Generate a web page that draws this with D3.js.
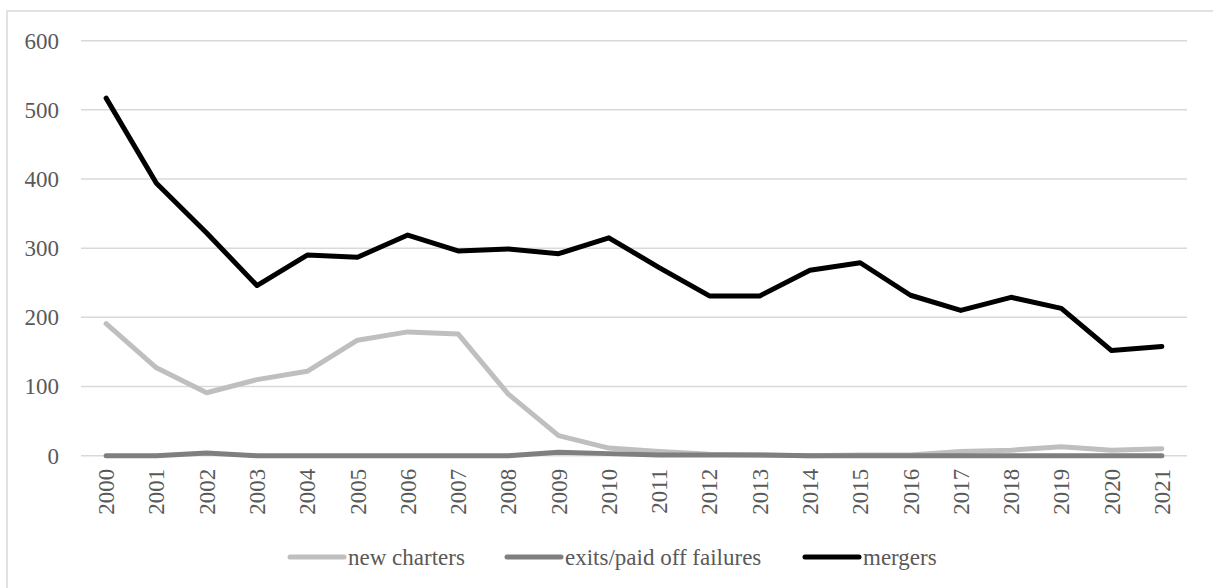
<!DOCTYPE html>
<html>
<head>
<meta charset="utf-8">
<script src="https://d3js.org/d3.v7.min.js"></script>
<style>
  body { margin: 0; background: #fff; }
  text { font-family: "Liberation Serif", "Times New Roman", serif; fill: #595959; }
</style>
</head>
<body>
<script>
  // data
  var years = ["2000","2001","2002","2003","2004","2005","2006","2007","2008","2009","2010",
               "2011","2012","2013","2014","2015","2016","2017","2018","2019","2020","2021"];
  var newCharters = [191,127,91,110,122,167,179,176,89,29,11,6,2,1,0,1,1,6,8,13,8,10];
  var exits       = [0,0,4,0,0,0,0,0,0,5,3,1,1,1,0,0,0,0,0,0,0,0];
  var mergers     = [517,394,322,246,290,287,319,296,299,292,315,272,231,231,268,279,232,210,229,213,152,158];
  var yTicks = [0,100,200,300,400,500,600];

  var series = [
    {name: "new charters", values: newCharters, color: "#bfbfbf"},
    {name: "exits/paid off failures", values: exits, color: "#7f7f7f"},
    {name: "mergers", values: mergers, color: "#000000"}
  ];

  var W = 1213, H = 588;
  var mLeft = 81, mRight = 1187, mTop = 40.7, mBottom = 455.7;
  var fs = "23px";

  var svg = d3.select("body").append("svg").attr("width", W).attr("height", H);

  // chart frame (only top/left edges are in view)
  svg.append("rect").attr("x", 7).attr("y", 11).attr("width", 1300).attr("height", 700)
    .attr("fill", "none").attr("stroke", "#d9d9d9").attr("stroke-width", 1.5);

  var x = d3.scaleBand().domain(years).range([mLeft, mRight]);
  var y = d3.scaleLinear().domain([0, 600]).range([mBottom, mTop]);

  // gridlines
  svg.append("g").selectAll("line").data(yTicks).enter().append("line")
    .attr("x1", mLeft).attr("x2", mRight)
    .attr("y1", function(d){ return y(d); }).attr("y2", function(d){ return y(d); })
    .attr("stroke", "#d9d9d9").attr("stroke-width", 1.5);

  // y axis labels
  var yAxis = svg.append("g").attr("transform", "translate(" + (mLeft - 5) + ",0)")
    .call(d3.axisLeft(y).tickValues(yTicks).tickSize(0).tickPadding(17));
  yAxis.select(".domain").remove();
  yAxis.selectAll("text").style("font-size", fs).attr("fill", "#595959")
    .style("font-family", "'Liberation Serif', serif");

  // x axis labels (rotated)
  var xAxis = svg.append("g").attr("transform", "translate(0," + mBottom + ")")
    .call(d3.axisBottom(x).tickSize(0));
  xAxis.select(".domain").remove();
  xAxis.selectAll("text")
    .style("font-size", fs).attr("fill", "#595959")
    .style("font-family", "'Liberation Serif', serif")
    .attr("text-anchor", "end")
    .attr("transform", "rotate(-90)")
    .attr("x", -13).attr("y", 0).attr("dy", "0.35em");

  var line = d3.line()
    .x(function(d, i){ return x(years[i]) + x.bandwidth() / 2; })
    .y(function(d){ return y(d); });

  series.forEach(function(s){
    svg.append("path").datum(s.values)
      .attr("d", line)
      .attr("fill", "none")
      .attr("stroke", s.color)
      .attr("stroke-width", 5)
      .attr("stroke-linejoin", "round")
      .attr("stroke-linecap", "round");
  });

  // legend
  var legendX = [290, 507, 805];
  var legendY = 557;
  var lg = svg.append("g").selectAll("g").data(series).enter().append("g")
    .attr("transform", function(d, i){ return "translate(" + legendX[i] + "," + legendY + ")"; });
  lg.append("line").attr("x1", 0).attr("x2", 54).attr("y1", 0).attr("y2", 0)
    .attr("stroke", function(d){ return d.color; })
    .attr("stroke-width", 5).attr("stroke-linecap", "round");
  lg.append("text").attr("x", 58).attr("y", 0).attr("dy", "0.33em")
    .style("font-size", fs)
    .text(function(d){ return d.name; });
</script>
</body>
</html>
